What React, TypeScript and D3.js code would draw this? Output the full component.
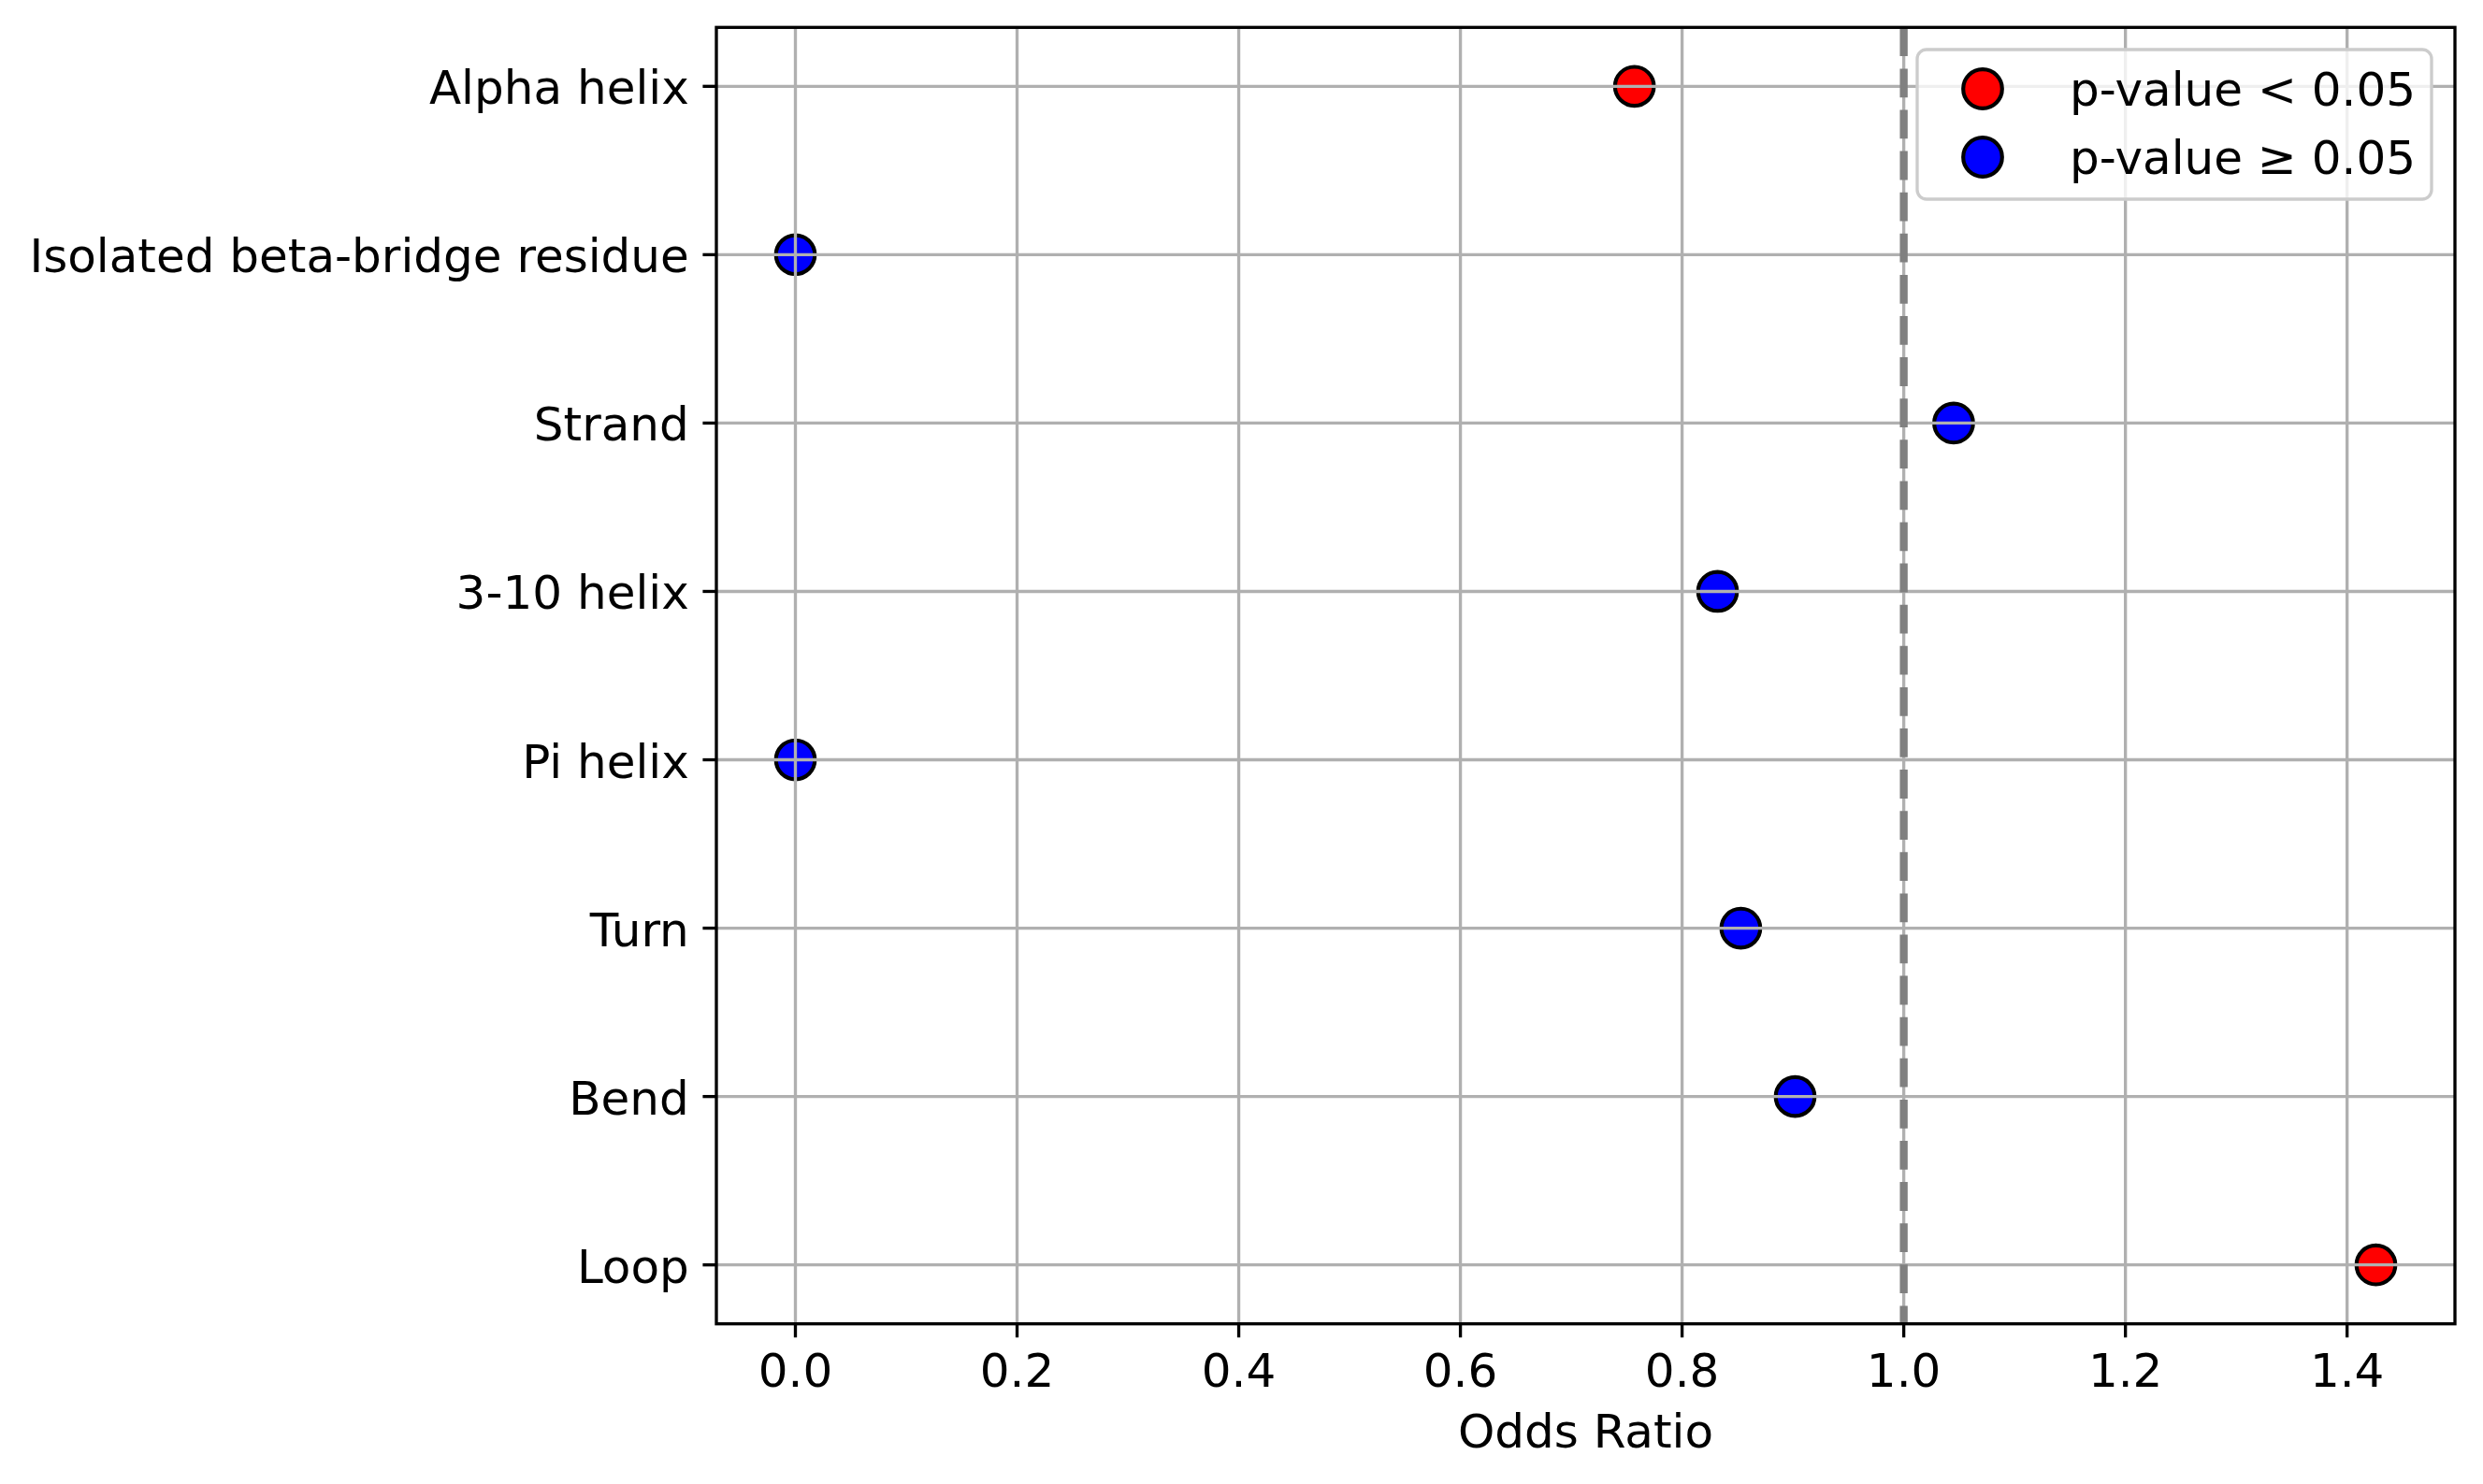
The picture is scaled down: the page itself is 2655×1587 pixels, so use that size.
import React, { useEffect } from 'react';
import * as d3 from 'd3';

// secondary structure categories, top to bottom
const categories = ['Alpha helix', 'Isolated beta-bridge residue', 'Strand', '3-10 helix', 'Pi helix', 'Turn', 'Bend', 'Loop'];
const oddsRatios = [0.757, 0.0, 1.045, 0.832, 0.0, 0.853, 0.902, 1.426];
const significant = [true, false, false, false, false, false, false, true];
const xTicks = [0.0, 0.2, 0.4, 0.6, 0.8, 1.0, 1.2, 1.4];
const legendLabels = ['p-value < 0.05', 'p-value \u2265 0.05'];
const refLine = 1.0;

const W = 2655, H = 1587;
const plot = { left: 766, right: 2625, top: 29.3, bottom: 1415.7 };
const font = '"DejaVu Sans", sans-serif';
const fs = 50;
const lw = 3.33;
const tickLen = 14.6;
const r = 20.8;

export default function App() {
  useEffect(() => { document.body.style.margin = '0'; }, []);

  const [lo, hi] = d3.extent(oddsRatios) as [number, number];
  const pad = (hi - lo) * 0.05;
  const x = d3.scaleLinear().domain([lo - pad, hi + pad]).range([plot.left, plot.right]);
  const y = d3.scalePoint<string>().domain(categories).range([plot.top, plot.bottom]).padding(0.35);
  const color = (s: boolean) => (s ? '#ff0000' : '#0000ff');

  return (
    <svg width={W} height={H} style={{ display: 'block', background: '#fff' }} fontFamily={font}>
      {/* points */}
      {categories.map((c, i) => (
        <circle key={c} cx={x(oddsRatios[i])} cy={y(c)} r={r} fill={color(significant[i])} stroke="#000" strokeWidth={4.17} />
      ))}
      {/* grid */}
      {xTicks.map(t => (
        <line key={'gx' + t} x1={x(t)} x2={x(t)} y1={plot.top} y2={plot.bottom} stroke="#b0b0b0" strokeWidth={lw} />
      ))}
      {categories.map(c => (
        <line key={'gy' + c} x1={plot.left} x2={plot.right} y1={y(c)} y2={y(c)} stroke="#b0b0b0" strokeWidth={lw} />
      ))}
      {/* reference line */}
      <line x1={x(refLine)} x2={x(refLine)} y1={plot.top} y2={plot.bottom} stroke="#808080" strokeWidth={8.33} strokeDasharray="30.8,13.3" />
      {/* spines */}
      <rect x={plot.left} y={plot.top} width={plot.right - plot.left} height={plot.bottom - plot.top} fill="none" stroke="#000" strokeWidth={lw} />
      {/* x axis */}
      {xTicks.map(t => (
        <g key={'xt' + t}>
          <line x1={x(t)} x2={x(t)} y1={plot.bottom} y2={plot.bottom + tickLen} stroke="#000" strokeWidth={lw} />
          <text x={x(t)} y={1483} fontSize={fs} textAnchor="middle" fill="#000">{t.toFixed(1)}</text>
        </g>
      ))}
      <text x={(plot.left + plot.right) / 2} y={1548} fontSize={fs} textAnchor="middle" fill="#000">Odds Ratio</text>
      {/* y axis */}
      {categories.map(c => (
        <g key={'yt' + c}>
          <line x1={plot.left - tickLen} x2={plot.left} y1={y(c)} y2={y(c)} stroke="#000" strokeWidth={lw} />
          <text x={plot.left - tickLen * 2} y={(y(c) as number) + 19} fontSize={fs} textAnchor="end" fill="#000">{c}</text>
        </g>
      ))}
      {/* legend */}
      <g>
        <rect x={2050} y={53} width={550} height={160} rx={10} fill="#fff" fillOpacity={0.8} stroke="#cccccc" strokeWidth={lw} />
        {legendLabels.map((l, i) => (
          <g key={l}>
            <circle cx={2120} cy={95 + i * 73} r={r} fill={color(i === 0)} stroke="#000" strokeWidth={4.17} />
            <text x={2213} y={113 + i * 73} fontSize={fs} fill="#000">{l}</text>
          </g>
        ))}
      </g>
    </svg>
  );
}
